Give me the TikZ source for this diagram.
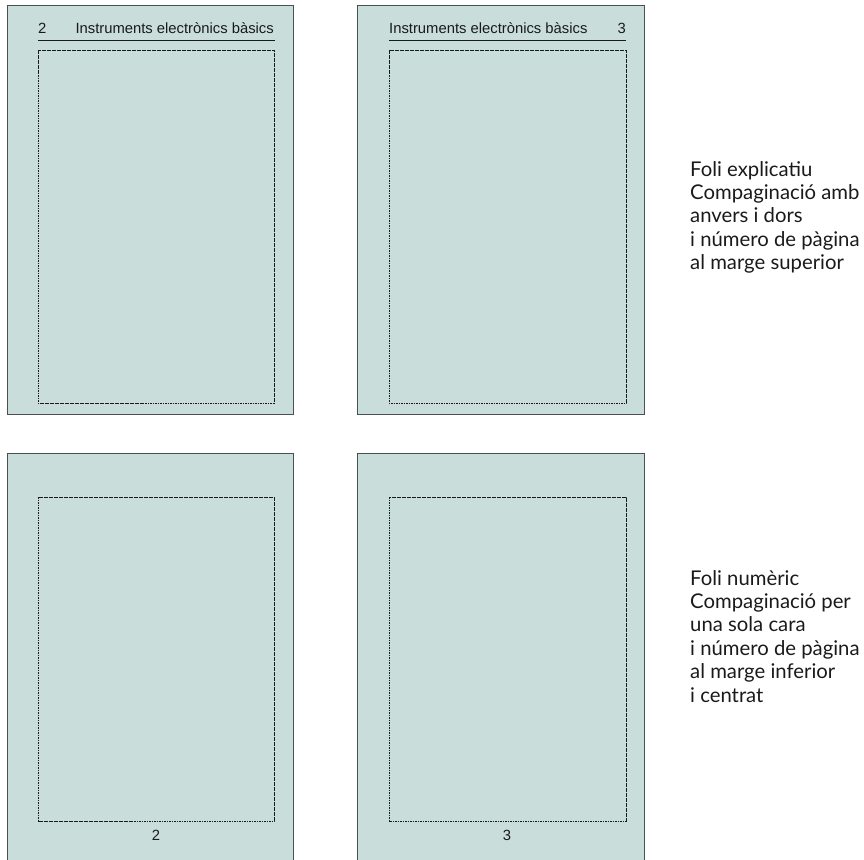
\documentclass[tikz,border=0pt]{standalone}
\usepackage{fontspec}
\setmainfont{Liberation Sans}
\newfontfamily\notefont{Lato}
\usetikzlibrary{positioning}
\definecolor{pagefill}{HTML}{C9DEDB}
\definecolor{pageedge}{HTML}{4A4F52}
\definecolor{ink}{HTML}{1A1A1A}

\begin{document}
\begin{tikzpicture}[x=1pt,y=-1pt]

\tikzset{
  pagebox/.style={draw=pageedge, fill=pagefill, line width=1pt},
  textarea/.style={draw=ink, line width=0.9pt, dash pattern=on 1.6pt off 0.9pt},
  rule/.style={draw=ink, line width=0.9pt},
  headtxt/.style={font=\fontsize{14.8}{16}\selectfont, text=ink, inner sep=0pt, anchor=base west},
  foltxt/.style={font=\fontsize{14.8}{16}\selectfont, text=ink, inner sep=0pt, anchor=base},
  note/.style={font=\notefont\fontsize{20.3}{23.4}\selectfont, text=ink, align=left, anchor=north west, inner sep=0pt}}

\useasboundingbox (0,0) rectangle (864,859);

% top row: explanatory folio (verso / recto)
\draw[pagebox] (7,6) rectangle (293,414);
\draw[textarea] (38,50) rectangle (274,403);
\draw[rule] (38,40) -- (275,40);
\node[headtxt] (num2a) at (38,34) {2};
\node[headtxt, anchor=base east] (head2) at (274,34) {Instruments electrònics bàsics};

\draw[pagebox] (357,6) rectangle (644,414);
\draw[textarea] (389,50) rectangle (626,403);
\draw[rule] (389,40) -- (626,40);
\node[headtxt] (head3) at (389,34) {Instruments electrònics bàsics};
\node[headtxt, anchor=base east] (num3a) at (626,34) {3};

\node[note] (noteA) at (690,161) {Foli explicatiu\\Compaginació amb\\anvers i dors\\i número de pàgina\\al marge superior};

% bottom row: numeric folio, centred in the lower margin
\draw[pagebox] (7,453) rectangle (293,880);
\draw[textarea] (38,497) rectangle (274,821);
\node[foltxt] (num2b) at (156,840) {2};

\draw[pagebox] (357,453) rectangle (644,880);
\draw[textarea] (389,497) rectangle (626,821);
\node[foltxt] (num3b) at (507,840) {3};

\node[note] (noteB) at (690,570) {Foli numèric\\Compaginació per\\una sola cara\\i número de pàgina\\al marge inferior\\i centrat};

\end{tikzpicture}
\end{document}
